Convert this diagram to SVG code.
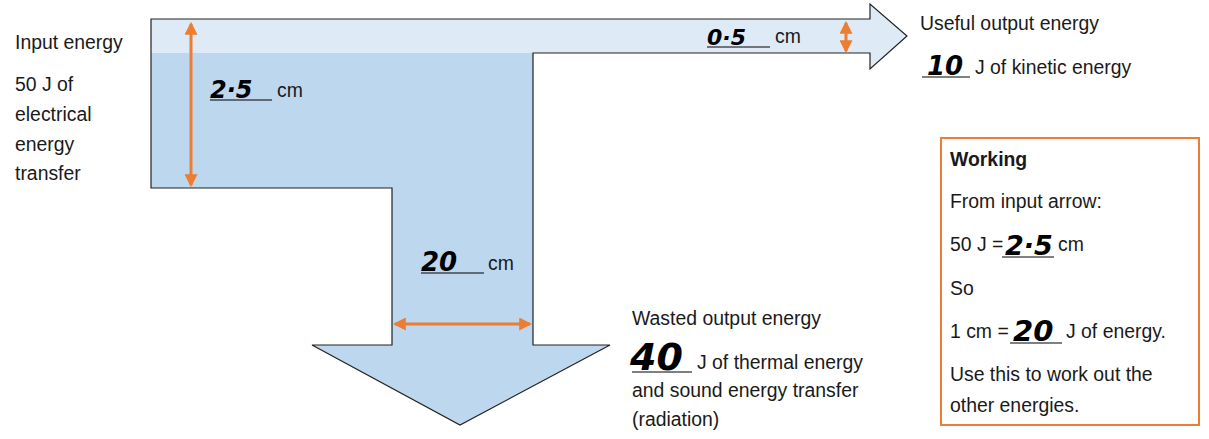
<svg xmlns="http://www.w3.org/2000/svg" width="1209" height="439" viewBox="0 0 1209 439">
<style>
.t{font-family:"Liberation Sans",Arial,sans-serif;font-size:19.4px;fill:#1a1a1a}
.b{font-weight:bold}
.h{font-family:"DejaVu Sans",sans-serif;font-weight:bold;font-style:italic;fill:#000}
.u{stroke:#000;stroke-width:1}
.o{stroke:#ED7D31;stroke-width:3;fill:none;marker-start:url(#ah);marker-end:url(#ah)}
</style>
<defs>
<marker id="ah" viewBox="0 0 12 12" refX="10" refY="6" markerWidth="13" markerHeight="13" markerUnits="userSpaceOnUse" orient="auto-start-reverse">
<path d="M0,0 L12,6 L0,12 Z" fill="#ED7D31"/>
</marker>
</defs>
<rect width="1209" height="439" fill="#fff"/>
<g id="sankey">
<path d="M151,19 L870,19 L870,4 L907,36 L870,69 L870,53 L533,53 L533,345 L610,345 L460,425 L312,345 L392,345 L392,188 L151,188 Z" fill="#BDD7EE"/>
<path d="M151,19 L870,19 L870,4 L907,36 L870,69 L870,53 L151,53 Z" fill="#DEEAF6"/>
<path d="M151,19 L870,19 L870,4 L907,36 L870,69 L870,53 L533,53 L533,345 L610,345 L460,425 L312,345 L392,345 L392,188 L151,188 Z" fill="none" stroke="#222" stroke-width="1.2"/>
</g>
<g id="connectors">
<line class="o" x1="191" y1="24" x2="191" y2="185"/>
<line class="o" x1="846" y1="23" x2="846" y2="51"/>
<line class="o" x1="395" y1="324" x2="530" y2="324"/>
</g>
<g id="input">
<text class="t" x="15" y="49">Input energy</text>
<text class="t" x="15" y="91">50 J of</text>
<text class="t" x="15" y="121">electrical</text>
<text class="t" x="15" y="151">energy</text>
<text class="t" x="15" y="180">transfer</text>
</g>
<g id="input-width">
<text class="h" x="210" y="98" font-size="24">2·5</text>
<line class="u" x1="210" y1="100" x2="272" y2="100"/>
<text class="t" x="277" y="97">cm</text>
</g>
<g id="useful">
<text class="t" x="920" y="30">Useful output energy</text>
<text class="h" x="927" y="75" font-size="26">10</text>
<line class="u" x1="922" y1="77" x2="970" y2="77"/>
<text class="t" x="975" y="74">J of kinetic energy</text>
</g>
<g id="useful-width">
<text class="h" x="707" y="45" font-size="22">0·5</text>
<line class="u" x1="707" y1="47" x2="770" y2="47"/>
<text class="t" x="775" y="43">cm</text>
</g>
<g id="wasted-width">
<text class="h" x="421" y="271" font-size="26">20</text>
<line class="u" x1="421" y1="273" x2="484" y2="273"/>
<text class="t" x="488" y="270">cm</text>
</g>
<g id="wasted">
<text class="t" x="632" y="325">Wasted output energy</text>
<text class="h" x="630" y="370" font-size="38">40</text>
<line class="u" x1="632" y1="372" x2="692" y2="372"/>
<text class="t" x="697" y="369">J of thermal energy</text>
<text class="t" x="632" y="397">and sound energy transfer</text>
<text class="t" x="632" y="426">(radiation)</text>
</g>
<g id="working">
<rect x="941" y="138" width="258" height="287" fill="none" stroke="#ED7D31" stroke-width="2"/>
<text class="t b" x="950" y="166">Working</text>
<text class="t" x="950" y="208">From input arrow:</text>
<text class="t" x="950" y="251">50 J =</text>
<text class="h" x="1005" y="255" font-size="27">2·5</text>
<line class="u" x1="1002" y1="257" x2="1054" y2="257"/>
<text class="t" x="1058" y="251">cm</text>
<text class="t" x="950" y="295">So</text>
<text class="t" x="950" y="338">1 cm =</text>
<text class="h" x="1013" y="341" font-size="29">20</text>
<line class="u" x1="1010" y1="343" x2="1062" y2="343"/>
<text class="t" x="1066" y="338">J of energy.</text>
<text class="t" x="950" y="381">Use this to work out the</text>
<text class="t" x="950" y="412">other energies.</text>
</g>
</svg>
